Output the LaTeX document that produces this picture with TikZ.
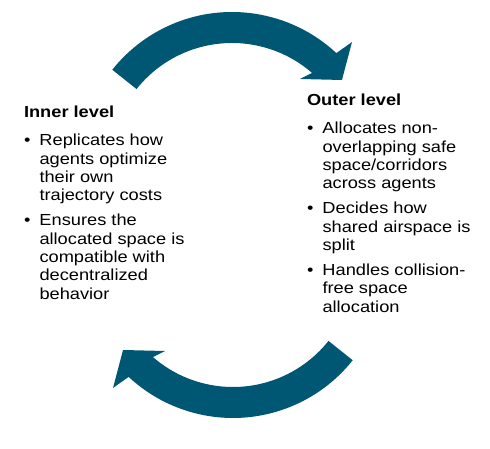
\documentclass[tikz,border=0pt]{standalone}
\usepackage{fontspec}
\setmainfont{Liberation Sans}[FakeStretch=1.14]
\usetikzlibrary{calc}
\definecolor{arrowc}{RGB}{0,87,115}
\newcommand{\bul}{\makebox[15.5pt][l]{\textbullet}}
\newcommand{\ind}{\hspace*{15.5pt}}
\tikzset{
  cyclearrow/.style={fill=arrowc, draw=none},
  textblock/.style={anchor=base west, inner sep=0pt, outer sep=0pt,
    font=\fontsize{16}{18.3}\selectfont}
}
\begin{document}
\begin{tikzpicture}[x=1pt,y=1pt]
\useasboundingbox (0,0) rectangle (490,449);
% top arrow
\coordinate (c1) at (232,284);
\fill[cyclearrow] ($(c1)+(141.5:153)$) arc[start angle=141.5, end angle=47, radius=153]
  -- ($(c1)+(45.7:171.8)$) -- ($(c1)+(37.7:139)$) -- ($(c1)+(51.7:109.6)$)
  -- ($(c1)+(49:122)$) arc[start angle=49, end angle=141.5, radius=122] -- cycle;
% bottom arrow
\coordinate (c2) at (233,184);
\fill[cyclearrow] ($(c2)+(321.5:153)$) arc[start angle=321.5, end angle=227, radius=153]
  -- ($(c2)+(225.7:171.8)$) -- ($(c2)+(217.7:139)$) -- ($(c2)+(231.7:109.6)$)
  -- ($(c2)+(229:122)$) arc[start angle=229, end angle=321.5, radius=122] -- cycle;
% text blocks
\node[textblock] (inner) at (24,331) {\renewcommand{\arraystretch}{1}%
\begin{tabular}[t]{@{}l@{}}
\textbf{Inner level}\\[9.7pt]
\bul Replicates how\\
\ind agents optimize\\
\ind their own\\
\ind trajectory costs\\[6.7pt]
\bul Ensures the\\
\ind allocated space is\\
\ind compatible with\\
\ind decentralized\\
\ind behavior
\end{tabular}};
\node[textblock] (outer) at (307,343) {\renewcommand{\arraystretch}{1}%
\begin{tabular}[t]{@{}l@{}}
\textbf{Outer level}\\[9.7pt]
\bul Allocates non-\\
\ind overlapping safe\\
\ind space/corridors\\
\ind across agents\\[6.7pt]
\bul Decides how\\
\ind shared airspace is\\
\ind split\\[6.7pt]
\bul Handles collision-\\
\ind free space\\
\ind allocation
\end{tabular}};
\end{tikzpicture}
\end{document}
